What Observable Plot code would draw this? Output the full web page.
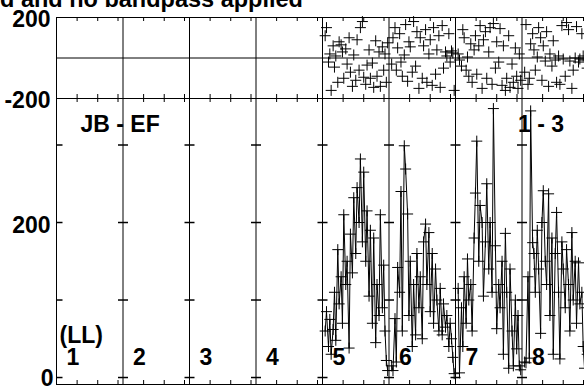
<!DOCTYPE html>
<html><head><meta charset="utf-8">
<script src="https://cdn.jsdelivr.net/npm/d3@7"></script>
<script src="https://cdn.jsdelivr.net/npm/@observablehq/plot@0.6"></script>
<style>
html,body{margin:0;padding:0;background:#fff;}
#chart{position:relative;width:584px;height:386px;overflow:hidden;font-family:"Liberation Sans",Arial,Helvetica,sans-serif;}
#title{position:absolute;left:0;top:-12px;width:299px;text-align:right;font-size:23.5px;line-height:23px;font-weight:bold;white-space:nowrap;color:#000;}
</style></head><body>
<div id="chart"><div id="title">d and no bandpass applied</div></div>
<script>
// ---- data ----
const channels = [1, 2, 3, 4, 5, 6, 7, 8];
const dataChannels = [5, 6, 7, 8];
// time of each sample as a fraction of a channel box
const times = [0.04,0.06,0.09,0.11,0.13,0.16,0.18,0.20,0.23,0.25,0.28,0.30,0.32,0.35,0.37,0.40,0.42,0.45,0.47,0.50,
               0.52,0.55,0.57,0.60,0.62,0.65,0.67,0.70,0.72,0.75,0.77,0.80,0.82,0.85,0.87,0.90,0.92,0.94,0.96,0.98];
const amp5 = [60,85,40,75,30,62,110,48,165,95,130,70,210,120,150,38,185,135,232,160,
              245,200,282,175,265,150,215,105,190,70,180,45,120,80,210,90,145,60,22,9];
const amp6 = [15,9,76,20,142,110,240,60,299,269,211,80,150,40,120,55,160,90,130,50,
              175,198,120,187,85,160,70,140,100,60,115,55,95,65,80,40,70,50,26,5];
const amp7 = [115,6,90,40,130,70,153,100,120,60,180,238,305,150,222,200,105,175,250,140,
              200,110,347,170,63,120,90,150,30,186,110,12,140,60,15,100,37,80,15,10];
const amp8 = [20,19,130,25,344,174,160,110,190,140,57,200,241,150,120,237,80,180,30,160,
              213,110,24,175,140,90,165,120,60,187,100,150,70,148,95,110,40,12,90,30];
const phase5 = [110,150,-20,20,-160,60,-45,10,-120,80,65,30,-100,45,-30,100,-70,-140,15,-110,
                90,-60,150,180,-95,-130,-35,40,-100,-25,-145,85,-90,30,-140,55,-60,20,-120,75];
const phase6 = [-30,100,150,-60,50,120,-20,-90,15,165,-115,80,55,-70,180,-40,130,-150,100,-100,
                60,140,-120,20,90,-135,150,-80,40,110,-145,160,-50,30,10,120,-20,35,25,-160];
const phase7 = [20,-10,-40,140,100,-60,5,-90,70,-120,40,110,-80,60,160,-150,90,130,-100,30,
                150,-130,170,-50,80,-20,145,-135,60,-160,-100,110,-145,-30,-120,50,-90,-150,20,-110];
const phase8 = [-70,165,-130,-100,70,120,40,-60,5,150,100,-110,60,-15,130,-140,20,-40,85,-10,
                -120,10,-130,160,-5,-90,175,140,-15,-150,-60,0,155,-20,-5,120,10,-10,0,-50];
const phaseTickLabels = [200, -200];
const ampTicks = [0, 100, 200, 300];
const ampTickLabels = [200, 0];
const timeTickOffsets = [0.31, 0.62, 0.925];
const baselineLabel = "JB - EF";
const stokesLabel = "(LL)";
const ifLabel = "1 - 3";

// ---- build table ----
const ampSeries = {5: amp5, 6: amp6, 7: amp7, 8: amp8};
const phaseSeries = {5: phase5, 6: phase6, 7: phase7, 8: phase8};
const rows = [];
for (const ch of dataChannels) {
  times.forEach((t, i) => rows.push({ch, x: ch - 1 + t, amp: ampSeries[ch][i], phase: phaseSeries[ch][i]}));
}
const boundaries = channels.slice(0, 7);          // lines between channels (x = 1..7)
const xTicks = channels.flatMap(c => timeTickOffsets.map(o => c - 1 + o));
const ampTickGrid = boundaries.flatMap(b => ampTicks.map(v => ({x: b, y: v})));

// symbols
const cross = {draw(ctx) { const r = 5.5; ctx.moveTo(-r, 0); ctx.lineTo(r, 0); ctx.moveTo(0, -r); ctx.lineTo(0, r); }};
const hTick = {draw(ctx) { ctx.moveTo(-5, 0); ctx.lineTo(5, 0); }};
const hTickIn = {draw(ctx) { ctx.moveTo(0, 0); ctx.lineTo(6, 0); }};

const W = 584;
const svgStyle = "position:absolute;left:0;top:0;background:transparent;overflow:visible;font-family:'Liberation Sans',Arial,Helvetica,sans-serif;";
const xScale = {domain: [0, 528 / 66.5], axis: null};
const font = {fontSize: 23, fontWeight: "bold", fill: "black"};

// ---- phase panel ----
const phasePlot = Plot.plot({
  width: W, height: 98, marginTop: 17, marginBottom: 0, marginLeft: 56, marginRight: 0,
  style: svgStyle,
  x: xScale,
  y: {domain: [-200, 200], axis: null},
  marks: [
    Plot.ruleY([200, 0, -200], {stroke: "black"}),
    Plot.ruleX([0, ...boundaries], {stroke: "black"}),
    Plot.ruleX(xTicks, {stroke: "black", insetBottom: 77}),
    Plot.ruleX(xTicks, {stroke: "black", insetTop: 77}),
    Plot.dot(rows, {x: "x", y: "phase", symbol: cross, stroke: "black", fill: "none", strokeWidth: 1}),
    Plot.text(phaseTickLabels, {y: d => d, text: d => String(d), frameAnchor: "left", textAnchor: "end", lineAnchor: "bottom", dx: -6, dy: 9, ...font})
  ]
});

// ---- amplitude panel ----
const ampPlot = Plot.plot({
  width: W, height: 386, marginTop: 98, marginBottom: 2, marginLeft: 56, marginRight: 0,
  style: svgStyle,
  x: xScale,
  y: {domain: [-9, 360], axis: null},
  marks: [
    Plot.frame({stroke: "black", anchor: "top"}),
    Plot.frame({stroke: "black", anchor: "bottom"}),
    Plot.ruleX([0, ...boundaries], {stroke: "black"}),
    Plot.ruleX(xTicks, {stroke: "black", insetBottom: 282}),
    Plot.ruleX(xTicks, {stroke: "black", insetTop: 282}),
    Plot.dot(ampTickGrid, {x: "x", y: "y", symbol: hTick, stroke: "black"}),
    Plot.dot(ampTicks, {x: () => 0, y: d => d, symbol: hTickIn, stroke: "black"}),
    Plot.line(rows, {x: "x", y: "amp", z: "ch", stroke: "black", strokeWidth: 1}),
    Plot.dot(rows, {x: "x", y: "amp", symbol: cross, stroke: "black", fill: "none", strokeWidth: 1}),
    Plot.text([ampTickLabels[0]], {y: d => d, text: d => String(d), frameAnchor: "left", textAnchor: "end", lineAnchor: "bottom", dx: -6, dy: 10, ...font}),
    Plot.text([ampTickLabels[1]], {y: d => d, text: d => String(d), frameAnchor: "left", textAnchor: "end", lineAnchor: "bottom", dx: -3, dy: 8, ...font}),
    Plot.text(channels, {x: d => d - 1, text: d => String(d), frameAnchor: "bottom", textAnchor: "start", lineAnchor: "bottom", dx: 10, dy: -20, ...font}),
    Plot.text([stokesLabel], {x: () => 0, text: d => d, frameAnchor: "bottom", textAnchor: "start", lineAnchor: "bottom", dx: 3, dy: -42, ...font}),
    Plot.text([baselineLabel], {x: () => 0, text: d => d, frameAnchor: "top", textAnchor: "start", lineAnchor: "bottom", dx: 24, dy: 33, ...font}),
    Plot.text([ifLabel], {x: () => 7, text: d => d, frameAnchor: "top", textAnchor: "start", lineAnchor: "bottom", dx: -4, dy: 33, ...font})
  ]
});

const chart = document.getElementById("chart");
chart.appendChild(phasePlot);
chart.appendChild(ampPlot);
</script>
</body></html>
